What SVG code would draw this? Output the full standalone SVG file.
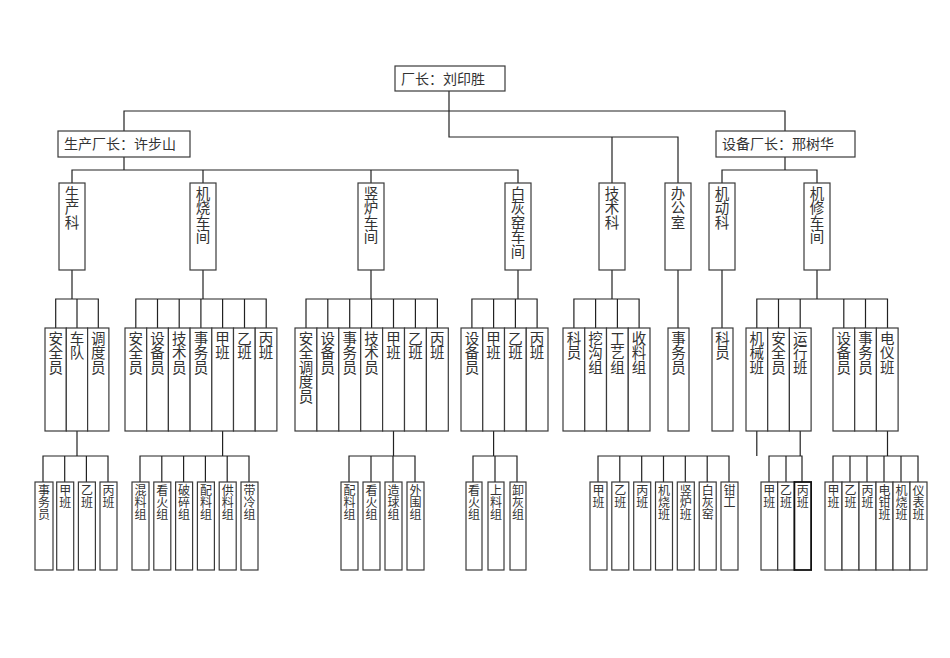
<svg xmlns="http://www.w3.org/2000/svg" width="950" height="658" viewBox="0 0 950 658">
<style>
rect{fill:#fff;stroke:#3a3a3a;stroke-width:1.2}
.c path{fill:none;stroke:#222;stroke-width:1.2}
text{font-family:"Noto Sans CJK SC","Noto Sans",sans-serif;fill:#333}
.h{font-size:14px}
.v{font-size:14.5px;writing-mode:vertical-rl}
.s{font-size:12px;writing-mode:vertical-rl}
</style>
<rect x="0" y="0" width="950" height="658" style="fill:#fff;stroke:none"/>
<g class="c">
<path d="M449 91V137H678V183M612 137V183M124 131V111H785V131"/>
<path d="M124 157V170M72 183V170H518V183M203 170V183M371 170V183"/>
<path d="M785 157V170M722 183V170H817V183"/>
<path d="M72 270V299M55.7 328V299H98.3V328M77 299V328"/>
<path d="M203 270V299M135.8 328V299H266.2V328M157.5 299V328M179.2 299V328M200.9 299V328M222.6 299V328M244.5 299V328"/>
<path d="M371 270V299M306 328V299H437.4V328M327.8 299V328M349.7 299V328M371.6 299V328M393.5 299V328M415.4 299V328"/>
<path d="M518 270V299M471.9 328V299H537.1V328M493.6 299V328M515.4 299V328"/>
<path d="M612 270V299M573.9 328V299H639.1V328M595.6 299V328M617.4 299V328"/>
<path d="M678 270V328M722 270V328"/>
<path d="M817 270V299M756.8 328V299H887.5V328M778.5 299V328M800.2 299V328M843.8 299V328M865.5 299V328"/>
<path d="M77 431V456M43 482V456H108V482M64.7 456V482M86.4 456V482"/>
<path d="M222.6 431V456M140 482V456H249V482M161.8 456V482M183.6 456V482M205.4 456V482M227.2 456V482"/>
<path d="M393.5 431V456M349 482V456H415V482M371 456V482M393 456V482"/>
<path d="M493.6 431V456M473 482V456H517V482M495 456V482"/>
<path d="M756.8 431V456M598 482V456H729V482M619.8 456V482M641.7 456V482M663.5 456V482M685.3 456V482M707.2 456V482"/>
<path d="M800.2 431V456M769 482V456H802V482M786 456V482"/>
<path d="M887.5 431V456M833 482V456H918V482M850 456V482M867 456V482M884 456V482M901 456V482"/>
</g>
<g id="director"><rect x="395" y="66" width="110" height="25"/><text class="h" x="401" y="84">厂长：刘印胜</text></g>
<g id="prod-vp"><rect x="58" y="131" width="132" height="26"/><text class="h" x="64" y="149">生产厂长：许步山</text></g>
<g id="equip-vp"><rect x="716" y="131" width="139" height="26"/><text class="h" x="722" y="149">设备厂长：邢树华</text></g>
<g id="l2">
<g id="scke"><rect x="59" y="183" width="26" height="87"/><text class="v" x="72" y="186">生产科</text></g>
<g id="jscj"><rect x="190" y="183" width="26" height="87"/><text class="v" x="203" y="186">机烧车间</text></g>
<g id="slcj"><rect x="358" y="183" width="26" height="87"/><text class="v" x="371" y="186">竖炉车间</text></g>
<g id="bhycj"><rect x="505" y="183" width="26" height="87"/><text class="v" x="518" y="186">白灰窑车间</text></g>
<g id="jsk"><rect x="599" y="183" width="26" height="87"/><text class="v" x="612" y="186">技术科</text></g>
<g id="bgs"><rect x="665" y="183" width="26" height="87"/><text class="v" x="678" y="186">办公室</text></g>
<g id="jdk"><rect x="709" y="183" width="26" height="87"/><text class="v" x="722" y="186">机动科</text></g>
<g id="jxcj"><rect x="804" y="183" width="26" height="87"/><text class="v" x="817" y="186">机修车间</text></g>
</g>
<g id="l3">
<g id="a1"><rect x="45" y="328" width="21.3" height="103"/><text class="v" x="55.7" y="331">安全员</text></g>
<g id="a2"><rect x="66.3" y="328" width="21.3" height="103"/><text class="v" x="77" y="331">车队</text></g>
<g id="a3"><rect x="87.6" y="328" width="21.3" height="103"/><text class="v" x="98.3" y="331">调度员</text></g>
<g id="b1"><rect x="125" y="328" width="21.7" height="103"/><text class="v" x="135.8" y="331">安全员</text></g>
<g id="b2"><rect x="146.7" y="328" width="21.7" height="103"/><text class="v" x="157.5" y="331">设备员</text></g>
<g id="b3"><rect x="168.4" y="328" width="21.7" height="103"/><text class="v" x="179.2" y="331">技术员</text></g>
<g id="b4"><rect x="190.1" y="328" width="21.7" height="103"/><text class="v" x="200.9" y="331">事务员</text></g>
<g id="b5"><rect x="211.8" y="328" width="21.7" height="103"/><text class="v" x="222.6" y="331">甲班</text></g>
<g id="b6"><rect x="233.5" y="328" width="21.7" height="103"/><text class="v" x="244.4" y="331">乙班</text></g>
<g id="b7"><rect x="255.2" y="328" width="21.7" height="103"/><text class="v" x="266.1" y="331">丙班</text></g>
<g id="c1"><rect x="295" y="328" width="21.9" height="103"/><text class="v" x="306" y="331">安全调度员</text></g>
<g id="c2"><rect x="316.9" y="328" width="21.9" height="103"/><text class="v" x="327.8" y="331">设备员</text></g>
<g id="c3"><rect x="338.8" y="328" width="21.9" height="103"/><text class="v" x="349.7" y="331">事务员</text></g>
<g id="c4"><rect x="360.7" y="328" width="21.9" height="103"/><text class="v" x="371.6" y="331">技术员</text></g>
<g id="c5"><rect x="382.6" y="328" width="21.9" height="103"/><text class="v" x="393.5" y="331">甲班</text></g>
<g id="c6"><rect x="404.5" y="328" width="21.9" height="103"/><text class="v" x="415.4" y="331">乙班</text></g>
<g id="c7"><rect x="426.4" y="328" width="21.9" height="103"/><text class="v" x="437.3" y="331">丙班</text></g>
<g id="d1"><rect x="461" y="328" width="21.75" height="103"/><text class="v" x="471.9" y="331">设备员</text></g>
<g id="d2"><rect x="482.75" y="328" width="21.75" height="103"/><text class="v" x="493.6" y="331">甲班</text></g>
<g id="d3"><rect x="504.5" y="328" width="21.75" height="103"/><text class="v" x="515.4" y="331">乙班</text></g>
<g id="d4"><rect x="526.25" y="328" width="21.75" height="103"/><text class="v" x="537.1" y="331">丙班</text></g>
<g id="e1"><rect x="563" y="328" width="21.75" height="103"/><text class="v" x="573.9" y="331">科员</text></g>
<g id="e2"><rect x="584.75" y="328" width="21.75" height="103"/><text class="v" x="595.6" y="331">挖沟组</text></g>
<g id="e3"><rect x="606.5" y="328" width="21.75" height="103"/><text class="v" x="617.4" y="331">工艺组</text></g>
<g id="e4"><rect x="628.25" y="328" width="21.75" height="103"/><text class="v" x="639.1" y="331">收料组</text></g>
<g id="f1"><rect x="668" y="328" width="21" height="103"/><text class="v" x="678.5" y="331">事务员</text></g>
<g id="g1"><rect x="712" y="328" width="21" height="103"/><text class="v" x="722.5" y="331">科员</text></g>
<g id="h1"><rect x="746" y="328" width="21.7" height="103"/><text class="v" x="756.8" y="331">机械班</text></g>
<g id="h2"><rect x="767.7" y="328" width="21.7" height="103"/><text class="v" x="778.5" y="331">安全员</text></g>
<g id="h3"><rect x="789.4" y="328" width="21.7" height="103"/><text class="v" x="800.2" y="331">运行班</text></g>
<g id="h4"><rect x="833" y="328" width="21.7" height="103"/><text class="v" x="843.8" y="331">设备员</text></g>
<g id="h5"><rect x="854.7" y="328" width="21.7" height="103"/><text class="v" x="865.5" y="331">事务员</text></g>
<g id="h6"><rect x="876.4" y="328" width="21.7" height="103"/><text class="v" x="887.2" y="331">电仪班</text></g>
</g>
<g id="l4">
<g id="p1"><rect x="35" y="482" width="18" height="88"/><text class="s" x="44" y="484">事务员</text></g>
<g id="p2"><rect x="56.7" y="482" width="17" height="88"/><text class="s" x="65.2" y="484">甲班</text></g>
<g id="p3"><rect x="78.4" y="482" width="17" height="88"/><text class="s" x="86.9" y="484">乙班</text></g>
<g id="p4"><rect x="100" y="482" width="17" height="88"/><text class="s" x="108.5" y="484">丙班</text></g>
<g id="q1"><rect x="132" y="482" width="17" height="88"/><text class="s" x="140.5" y="484">混料组</text></g>
<g id="q2"><rect x="153.8" y="482" width="17" height="88"/><text class="s" x="162.3" y="484">看火组</text></g>
<g id="q3"><rect x="175.6" y="482" width="17" height="88"/><text class="s" x="184.1" y="484">破碎组</text></g>
<g id="q4"><rect x="197.4" y="482" width="17" height="88"/><text class="s" x="205.9" y="484">配料组</text></g>
<g id="q5"><rect x="219.2" y="482" width="17" height="88"/><text class="s" x="227.7" y="484">供料组</text></g>
<g id="q6"><rect x="241" y="482" width="17" height="88"/><text class="s" x="249.5" y="484">带冷组</text></g>
<g id="r1"><rect x="341" y="482" width="17" height="88"/><text class="s" x="349.5" y="484">配料组</text></g>
<g id="r2"><rect x="363" y="482" width="17" height="88"/><text class="s" x="371.5" y="484">看火组</text></g>
<g id="r3"><rect x="385" y="482" width="17" height="88"/><text class="s" x="393.5" y="484">造球组</text></g>
<g id="r4"><rect x="407" y="482" width="17" height="88"/><text class="s" x="415.5" y="484">外围组</text></g>
<g id="s1"><rect x="466" y="482" width="16" height="88"/><text class="s" x="474" y="484">看火组</text></g>
<g id="s2"><rect x="488" y="482" width="16" height="88"/><text class="s" x="496" y="484">上料组</text></g>
<g id="s3"><rect x="510" y="482" width="16" height="88"/><text class="s" x="518" y="484">卸灰组</text></g>
<g id="t1"><rect x="590" y="482" width="17" height="88"/><text class="s" x="598.5" y="484">甲班</text></g>
<g id="t2"><rect x="611.8" y="482" width="17" height="88"/><text class="s" x="620.3" y="484">乙班</text></g>
<g id="t3"><rect x="633.7" y="482" width="17" height="88"/><text class="s" x="642.2" y="484">丙班</text></g>
<g id="t4"><rect x="655.5" y="482" width="17" height="88"/><text class="s" x="664" y="484">机烧班</text></g>
<g id="t5"><rect x="677.3" y="482" width="17" height="88"/><text class="s" x="685.8" y="484">竖炉班</text></g>
<g id="t6"><rect x="699.2" y="482" width="17" height="88"/><text class="s" x="707.7" y="484">白灰窑</text></g>
<g id="t7"><rect x="721" y="482" width="17" height="88"/><text class="s" x="729.5" y="484">钳工</text></g>
<g id="u1"><rect x="761" y="482" width="16.7" height="88"/><text class="s" x="769.3" y="484">甲班</text></g>
<g id="u2"><rect x="777.7" y="482" width="16.7" height="88"/><text class="s" x="786" y="484">乙班</text></g>
<g id="u3"><rect x="794.4" y="482" width="16.7" height="88" style="stroke:#111;stroke-width:1.8"/><text class="s" x="802.7" y="484">丙班</text></g>
<g id="w1"><rect x="825" y="482" width="17" height="88"/><text class="s" x="833.5" y="484">甲班</text></g>
<g id="w2"><rect x="842" y="482" width="17" height="88"/><text class="s" x="850.5" y="484">乙班</text></g>
<g id="w3"><rect x="859" y="482" width="17" height="88"/><text class="s" x="867.5" y="484">丙班</text></g>
<g id="w4"><rect x="876" y="482" width="17" height="88"/><text class="s" x="884.5" y="484">电钳班</text></g>
<g id="w5"><rect x="893" y="482" width="17" height="88"/><text class="s" x="901.5" y="484">机烧班</text></g>
<g id="w6"><rect x="910" y="482" width="17" height="88"/><text class="s" x="918.5" y="484">仪表班</text></g>
</g>
</svg>
